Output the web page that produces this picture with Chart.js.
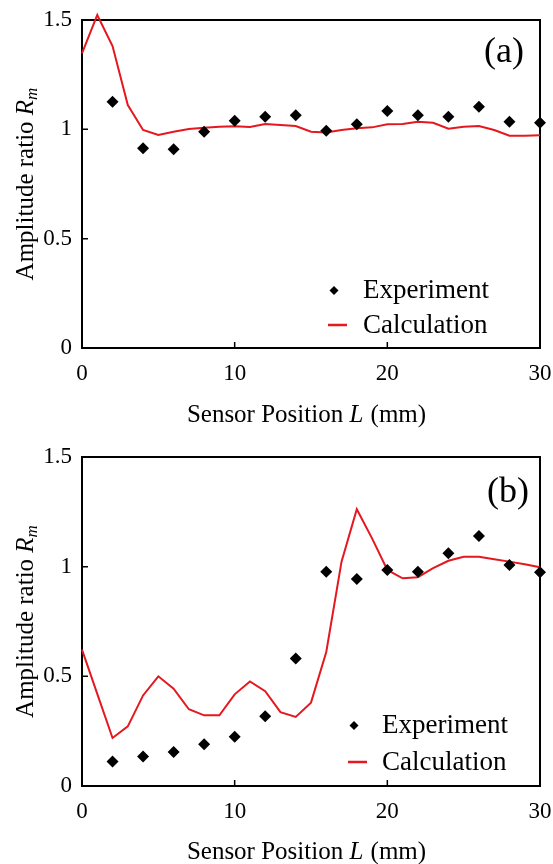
<!DOCTYPE html>
<html>
<head>
<meta charset="utf-8">
<script src="https://cdn.jsdelivr.net/npm/chart.js@4/dist/chart.umd.min.js"></script>
<style>
  html, body { margin: 0; padding: 0; background: #fff; }
  #wrapA { position: absolute; left: 0; top: 0; width: 553px; height: 437px; }
  #wrapB { position: absolute; left: 0; top: 437px; width: 553px; height: 427px; }
</style>
</head>
<body>
<div id="wrapA"><canvas id="chartA"></canvas></div>
<div id="wrapB"><canvas id="chartB"></canvas></div>
<script>
// sensor positions (mm)
const expPositions = [2, 4, 6, 8, 10, 12, 14, 16, 18, 20, 22, 24, 26, 28, 30];
const calcPositions = [0, 1, 2, 3, 4, 5, 6, 7, 8, 9, 10, 11, 12, 13, 14, 15,
    16, 17, 18, 19, 20, 21, 22, 23, 24, 25, 26, 27, 28, 29, 30];

// panel (a)
const expA = [1.126, 0.913, 0.909, 0.989, 1.039, 1.058, 1.064, 0.994, 1.023, 1.084,
    1.064, 1.058, 1.103, 1.035, 1.030];
const calcA = [1.347, 1.523, 1.381, 1.111, 0.997, 0.974, 0.989, 1.001, 1.007, 1.012,
    1.014, 1.011, 1.024, 1.02, 1.015, 0.989, 0.986, 0.997, 1.005, 1.009,
    1.023, 1.024, 1.035, 1.030, 1.003, 1.012, 1.015, 0.997, 0.971, 0.971, 0.973];

// panel (b)
const expB = [0.112, 0.135, 0.155, 0.190, 0.225, 0.318, 0.581, 0.977, 0.944, 0.985,
    0.977, 1.061, 1.140, 1.008, 0.975];
const calcB = [0.622, 0.42, 0.219, 0.272, 0.413, 0.500, 0.444, 0.350, 0.322, 0.322,
    0.418, 0.477, 0.432, 0.337, 0.315, 0.380, 0.611, 1.023, 1.262, 1.129,
    0.985, 0.947, 0.952, 0.993, 1.027, 1.045, 1.045, 1.034, 1.023, 1.011, 0.997];

const xTicks = [0, 10, 20, 30];
const yTicks = [0, 0.5, 1, 1.5];

const RED = 'rgb(228, 24, 30)';
const SERIF = '"Liberation Serif", "DejaVu Serif", serif';

function toPoints(xs, ys) {
    return xs.map((x, i) => ({ x: x, y: ys[i] }));
}

// frame, inward ticks, axis titles, legend and panel label
function decorPlugin(cfg) {
    return {
        id: 'decor',
        beforeDatasetsDraw(chart) {
            const ctx = chart.ctx;
            const a = chart.chartArea;
            const xs = chart.scales.x;
            const ys = chart.scales.y;
            ctx.save();
            ctx.strokeStyle = '#000';
            ctx.lineWidth = 2;
            ctx.strokeRect(a.left, a.top, a.right - a.left, a.bottom - a.top);
            ctx.lineWidth = 1.5;
            ctx.beginPath();
            [0.5, 1].forEach(v => {
                const py = ys.getPixelForValue(v);
                ctx.moveTo(a.left, py);
                ctx.lineTo(a.left + 6, py);
            });
            [10, 20].forEach(v => {
                const px = xs.getPixelForValue(v);
                ctx.moveTo(px, a.bottom);
                ctx.lineTo(px, a.bottom - 6);
            });
            ctx.stroke();
            ctx.restore();
        },
        afterDraw(chart) {
            const ctx = chart.ctx;
            const a = chart.chartArea;
            ctx.save();
            ctx.fillStyle = '#000';
            ctx.textBaseline = 'alphabetic';

            // x title
            const fs = 25;
            const p1 = 'Sensor Position ', p2 = 'L', p3 = ' (mm)';
            ctx.font = fs + 'px ' + SERIF;
            const w1 = ctx.measureText(p1).width, w3 = ctx.measureText(p3).width;
            ctx.font = 'italic ' + fs + 'px ' + SERIF;
            const w2 = ctx.measureText(p2).width;
            let tx = (a.left + a.right) / 2 - 5 - (w1 + w2 + w3) / 2;
            ctx.textAlign = 'left';
            ctx.font = fs + 'px ' + SERIF;
            ctx.fillText(p1, tx, cfg.xTitleY);
            ctx.font = 'italic ' + fs + 'px ' + SERIF;
            ctx.fillText(p2, tx + w1, cfg.xTitleY);
            ctx.font = fs + 'px ' + SERIF;
            ctx.fillText(p3, tx + w1 + w2 + 1, cfg.xTitleY);

            // y title, rotated
            const q1 = 'Amplitude ratio ', q2 = 'R', q3 = 'm';
            ctx.font = fs + 'px ' + SERIF;
            const v1 = ctx.measureText(q1).width;
            ctx.font = 'italic ' + fs + 'px ' + SERIF;
            const v2 = ctx.measureText(q2).width;
            ctx.font = 'italic 17px ' + SERIF;
            const v3 = ctx.measureText(q3).width;
            ctx.translate(33, (a.top + a.bottom) / 2);
            ctx.rotate(-Math.PI / 2);
            let sx = -(v1 + v2 + v3) / 2;
            ctx.font = fs + 'px ' + SERIF;
            ctx.fillText(q1, sx, 0);
            ctx.font = 'italic ' + fs + 'px ' + SERIF;
            ctx.fillText(q2, sx + v1, 0);
            ctx.font = 'italic 17px ' + SERIF;
            ctx.fillText(q3, sx + v1 + v2, 4);
            ctx.setTransform(1, 0, 0, 1, 0, 0);

            // panel label
            ctx.font = '36px ' + SERIF;
            ctx.textAlign = 'right';
            ctx.fillText(cfg.label, cfg.labelX, cfg.labelY);

            // legend
            const lg = cfg.legend;
            ctx.font = '27px ' + SERIF;
            ctx.textAlign = 'left';
            ctx.fillText('Experiment', lg.textX, lg.row1);
            ctx.fillText('Calculation', lg.textX, lg.row2);
            ctx.beginPath();
            ctx.moveTo(lg.markX, lg.row1 - 12);
            ctx.lineTo(lg.markX + 4.5, lg.row1 - 7.5);
            ctx.lineTo(lg.markX, lg.row1 - 3);
            ctx.lineTo(lg.markX - 4.5, lg.row1 - 7.5);
            ctx.closePath();
            ctx.fill();
            ctx.strokeStyle = RED;
            ctx.lineWidth = 2.5;
            ctx.beginPath();
            ctx.moveTo(lg.markX - 6, lg.row2 - 8);
            ctx.lineTo(lg.markX + 13, lg.row2 - 8);
            ctx.stroke();
            ctx.restore();
        }
    };
}

function makeChart(id, expVals, calcVals, axisHeight, cfg) {
    return new Chart(document.getElementById(id), {
        type: 'scatter',
        data: {
            datasets: [{
                label: 'Experiment',
                data: toPoints(expPositions, expVals),
                showLine: false,
                pointStyle: 'rectRot',
                pointRadius: 6,
                backgroundColor: '#000',
                borderColor: '#000',
                borderWidth: 0,
                clip: false
            }, {
                label: 'Calculation',
                data: toPoints(calcPositions, calcVals),
                showLine: true,
                pointRadius: 0,
                borderColor: RED,
                borderWidth: 2,
                tension: 0,
                clip: false
            }]
        },
        options: {
            responsive: true,
            maintainAspectRatio: false,
            animation: false,
            layout: { padding: { top: cfg.top, right: 13, left: 0, bottom: 0 } },
            plugins: {
                legend: { display: false },
                tooltip: { enabled: false }
            },
            scales: {
                x: {
                    type: 'linear',
                    min: 0,
                    max: 30,
                    afterBuildTicks: (s) => { s.ticks = xTicks.map(v => ({ value: v })); },
                    afterFit: (s) => {
                        s.height = axisHeight;
                        s.paddingLeft = 0;
                        s.paddingRight = 0;
                    },
                    grid: { display: false, drawTicks: false },
                    border: { display: false },
                    ticks: {
                        color: '#000',
                        padding: 12,
                        maxRotation: 0,
                        callback: (v) => String(v),
                        font: { family: SERIF, size: 23 }
                    }
                },
                y: {
                    min: 0,
                    max: 1.5,
                    afterBuildTicks: (s) => { s.ticks = yTicks.map(v => ({ value: v })); },
                    afterFit: (s) => {
                        s.width = 82;
                        s.paddingTop = 0;
                        s.paddingBottom = 0;
                    },
                    grid: { display: false, drawTicks: false },
                    border: { display: false },
                    ticks: {
                        color: '#000',
                        padding: 10,
                        callback: (v) => String(v),
                        font: { family: SERIF, size: 23 }
                    }
                }
            }
        },
        plugins: [decorPlugin(cfg)]
    });
}

makeChart('chartA', expA, calcA, 89, {
    top: 20, label: '(a)', labelX: 524, labelY: 62, xTitleY: 422,
    legend: { markX: 334, textX: 363, row1: 298, row2: 333 }
});
makeChart('chartB', expB, calcB, 78, {
    top: 20, label: '(b)', labelX: 529, labelY: 65, xTitleY: 422,
    legend: { markX: 354, textX: 382, row1: 296, row2: 333 }
});
</script>
</body>
</html>
